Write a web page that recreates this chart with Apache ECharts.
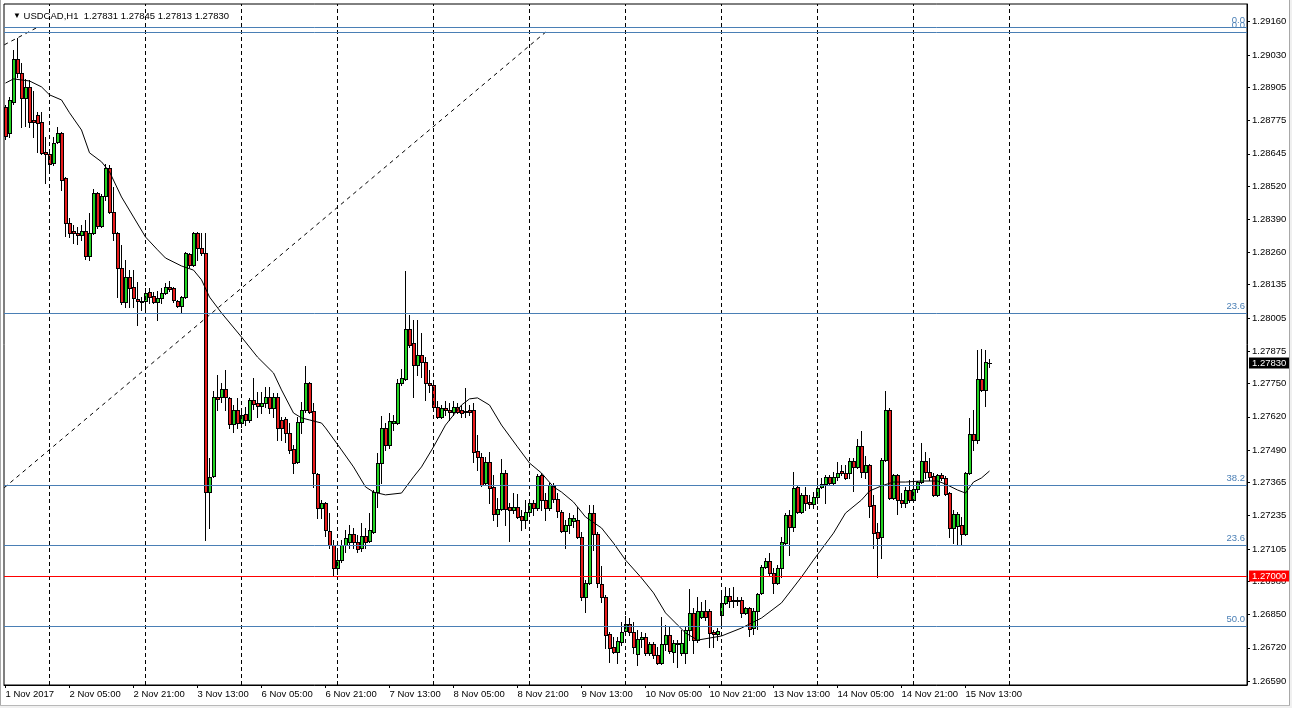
<!DOCTYPE html>
<html><head><meta charset="utf-8">
<script src="https://cdn.jsdelivr.net/npm/echarts@6.0.0/dist/echarts.min.js"></script>
<style>
html,body{margin:0;padding:0;background:#fff;}
#wrap{position:relative;width:1292px;height:708px;overflow:hidden;}
#c{width:1292px;height:708px;}
.edge{position:absolute;pointer-events:none;}
</style>
</head><body><div id="wrap"><div id="c"></div>
<div class="edge" style="left:0;top:0;width:1px;height:706px;background:#a8a8a8"></div>
<div class="edge" style="left:1289px;top:0;width:1px;height:706px;background:#a8a8a8"></div>
<div class="edge" style="left:1290px;top:0;width:2px;height:708px;background:#f0f0f0"></div>
<div class="edge" style="left:0;top:705px;width:1290px;height:1px;background:#b8b8b8"></div>
<div class="edge" style="left:0;top:706px;width:1290px;height:2px;background:#f0f0f0"></div>
</div>
<script>
const symbolName = 'USDCAD,H1';

const open = [
1.28828,1.28727,1.28847,1.29015,1.28960,1.28863,1.28906,1.28777,1.28797,1.28769,
1.28652,1.28645,1.28610,1.28691,1.28727,1.28551,1.28376,1.28345,1.28337,1.28329,
1.28345,1.28247,1.28337,1.28493,1.28364,1.28481,1.28590,1.28419,1.28337,1.28200,
1.28068,1.28165,1.28126,1.28079,1.28072,1.28072,1.28107,1.28091,1.28068,1.28083,
1.28103,1.28126,1.28122,1.28072,1.28052,1.28087,1.28255,1.28212,1.28337,1.28278,
1.28259,1.27327,1.27390,1.27698,1.27698,1.27729,1.27694,1.27592,1.27647,1.27596,
1.27631,1.27608,1.27686,1.27674,1.27662,1.27674,1.27698,1.27655,1.27698,1.27608,
1.27612,1.27557,1.27495,1.27444,1.27600,1.27647,1.27752,1.27643,1.27397,1.27265,
1.27284,1.27175,1.27121,1.27031,1.27062,1.27121,1.27132,1.27164,1.27132,1.27109,
1.27156,1.27136,1.27171,1.27327,1.27440,1.27577,1.27510,1.27596,1.27596,1.27752,
1.27768,1.27963,1.27908,1.27822,1.27861,1.27834,1.27752,1.27744,1.27658,1.27620,
1.27655,1.27647,1.27639,1.27658,1.27647,1.27643,1.27647,1.27647,1.27487,1.27464,
1.27362,1.27444,1.27347,1.27241,1.27261,1.27401,1.27269,1.27257,1.27269,1.27234,
1.27218,1.27249,1.27284,1.27265,1.27393,1.27296,1.27265,1.27351,1.27300,1.27249,
1.27175,1.27199,1.27214,1.27218,1.27152,1.26918,1.26973,1.27245,1.27164,1.26969,
1.26918,1.26774,1.26723,1.26704,1.26743,1.26785,1.26813,1.26782,1.26696,1.26754,
1.26762,1.26700,1.26735,1.26692,1.26661,1.26735,1.26770,1.26704,1.26739,1.26700,
1.26700,1.26789,1.26856,1.26750,1.26840,1.26863,1.26863,1.26782,1.26774,1.26848,
1.26895,1.26922,1.26906,1.26906,1.26906,1.26856,1.26875,1.26797,1.26863,1.26934,
1.27035,1.27058,1.27011,1.26973,1.27031,1.27128,1.27237,1.27191,1.27347,1.27249,
1.27316,1.27288,1.27280,1.27308,1.27347,1.27358,1.27386,1.27362,1.27386,1.27409,
1.27401,1.27401,1.27448,1.27425,1.27507,1.27405,1.27432,1.27277,1.27171,1.27152,
1.27452,1.27647,1.27304,1.27393,1.27296,1.27284,1.27335,1.27296,1.27339,1.27366,
1.27448,1.27405,1.27390,1.27316,1.27393,1.27382,1.27323,1.27187,1.27195,1.27199,
1.27164,1.27401,1.27553,1.27530,1.27768,1.27725,1.27831];

const high = [
1.28836,1.28867,1.29050,1.29097,1.28999,1.28937,1.28933,1.28890,1.28808,1.28808,
1.28711,1.28652,1.28711,1.28750,1.28730,1.28553,1.28395,1.28368,1.28360,1.28368,
1.28387,1.28415,1.28508,1.28497,1.28489,1.28606,1.28602,1.28516,1.28340,1.28290,
1.28231,1.28192,1.28192,1.28146,1.28087,1.28122,1.28122,1.28107,1.28111,1.28122,
1.28142,1.28150,1.28126,1.28076,1.28091,1.28263,1.28259,1.28341,1.28341,1.28337,
1.28337,1.27460,1.27721,1.27783,1.27752,1.27803,1.27698,1.27666,1.27694,1.27647,
1.27658,1.27694,1.27772,1.27717,1.27717,1.27737,1.27737,1.27713,1.27713,1.27620,
1.27620,1.27596,1.27510,1.27620,1.27678,1.27818,1.27755,1.27674,1.27401,1.27296,
1.27288,1.27245,1.27140,1.27093,1.27140,1.27179,1.27199,1.27187,1.27160,1.27206,
1.27187,1.27245,1.27335,1.27479,1.27623,1.27596,1.27635,1.27627,1.27768,1.27807,
1.28189,1.28017,1.27998,1.27998,1.27947,1.27853,1.27803,1.27752,1.27682,1.27666,
1.27682,1.27674,1.27682,1.27674,1.27666,1.27733,1.27666,1.27674,1.27549,1.27479,
1.27464,1.27483,1.27393,1.27304,1.27456,1.27413,1.27284,1.27323,1.27319,1.27257,
1.27296,1.27300,1.27296,1.27397,1.27401,1.27323,1.27362,1.27362,1.27323,1.27257,
1.27218,1.27245,1.27237,1.27269,1.27171,1.26984,1.27277,1.27277,1.27171,1.27039,
1.26926,1.26782,1.26762,1.26762,1.26820,1.26844,1.26836,1.26820,1.26789,1.26782,
1.26778,1.26743,1.26743,1.26723,1.26840,1.26809,1.26801,1.26750,1.26750,1.26789,
1.26801,1.26949,1.26875,1.26918,1.26898,1.26906,1.26871,1.26789,1.26797,1.26934,
1.26957,1.26953,1.26957,1.26918,1.26918,1.26879,1.26879,1.26875,1.26934,1.27043,
1.27070,1.27089,1.27031,1.27043,1.27152,1.27245,1.27257,1.27405,1.27351,1.27323,
1.27347,1.27316,1.27327,1.27382,1.27382,1.27393,1.27393,1.27405,1.27444,1.27432,
1.27432,1.27460,1.27460,1.27534,1.27565,1.27468,1.27435,1.27316,1.27206,1.27460,
1.27721,1.27655,1.27397,1.27397,1.27323,1.27347,1.27374,1.27374,1.27370,1.27518,
1.27483,1.27460,1.27401,1.27397,1.27401,1.27390,1.27327,1.27257,1.27249,1.27230,
1.27405,1.27616,1.27647,1.27881,1.27885,1.27881,1.27845];

const low = [
1.28703,1.28711,1.28840,1.28945,1.28750,1.28754,1.28750,1.28711,1.28652,1.28645,
1.28532,1.28586,1.28602,1.28688,1.28504,1.28325,1.28321,1.28298,1.28294,1.28310,
1.28235,1.28231,1.28333,1.28356,1.28360,1.28465,1.28415,1.28310,1.28087,1.28060,
1.28048,1.28048,1.28048,1.27978,1.28037,1.28025,1.28064,1.28064,1.27998,1.28064,
1.28099,1.28111,1.28068,1.28048,1.28025,1.28083,1.28204,1.28208,1.28231,1.28251,
1.27140,1.27187,1.27386,1.27647,1.27678,1.27647,1.27577,1.27561,1.27577,1.27581,
1.27588,1.27600,1.27651,1.27620,1.27635,1.27658,1.27635,1.27620,1.27530,1.27530,
1.27522,1.27479,1.27401,1.27440,1.27557,1.27639,1.27635,1.27347,1.27226,1.27226,
1.27156,1.27109,1.27004,1.27008,1.27054,1.27093,1.27109,1.27109,1.27093,1.27097,
1.27109,1.27132,1.27167,1.27269,1.27362,1.27491,1.27499,1.27569,1.27592,1.27744,
1.27764,1.27892,1.27698,1.27783,1.27775,1.27686,1.27717,1.27655,1.27616,1.27616,
1.27627,1.27608,1.27627,1.27635,1.27620,1.27620,1.27627,1.27444,1.27413,1.27351,
1.27355,1.27284,1.27218,1.27195,1.27257,1.27199,1.27136,1.27245,1.27226,1.27179,
1.27187,1.27245,1.27237,1.27257,1.27257,1.27218,1.27257,1.27288,1.27230,1.27171,
1.27109,1.27167,1.27191,1.27148,1.26906,1.26859,1.26969,1.27101,1.26957,1.26898,
1.26719,1.26665,1.26700,1.26661,1.26731,1.26778,1.26770,1.26700,1.26653,1.26723,
1.26692,1.26692,1.26680,1.26657,1.26657,1.26711,1.26700,1.26665,1.26645,1.26692,
1.26661,1.26750,1.26700,1.26743,1.26836,1.26828,1.26723,1.26723,1.26750,1.26809,
1.26891,1.26879,1.26879,1.26887,1.26840,1.26852,1.26766,1.26774,1.26793,1.26930,
1.27031,1.27004,1.26934,1.26969,1.26996,1.27124,1.27082,1.27175,1.27245,1.27245,
1.27257,1.27265,1.27265,1.27284,1.27343,1.27284,1.27358,1.27355,1.27374,1.27393,
1.27378,1.27382,1.27331,1.27421,1.27386,1.27382,1.27230,1.27109,1.26996,1.27070,
1.27448,1.27300,1.27300,1.27241,1.27269,1.27269,1.27288,1.27292,1.27327,1.27362,
1.27382,1.27374,1.27312,1.27312,1.27374,1.27316,1.27152,1.27128,1.27121,1.27121,
1.27160,1.27397,1.27491,1.27518,1.27721,1.27662,1.27813];

const close = [
1.28715,1.28855,1.29015,1.28960,1.28863,1.28906,1.28769,1.28769,1.28766,1.28649,
1.28645,1.28606,1.28688,1.28727,1.28543,1.28376,1.28337,1.28337,1.28329,1.28345,
1.28247,1.28337,1.28493,1.28364,1.28481,1.28590,1.28419,1.28337,1.28200,1.28068,
1.28165,1.28122,1.28083,1.28072,1.28068,1.28103,1.28087,1.28068,1.28083,1.28103,
1.28126,1.28118,1.28076,1.28052,1.28087,1.28259,1.28212,1.28337,1.28278,1.28259,
1.27327,1.27386,1.27698,1.27690,1.27729,1.27698,1.27592,1.27647,1.27596,1.27627,
1.27608,1.27686,1.27670,1.27662,1.27674,1.27698,1.27655,1.27698,1.27577,1.27577,
1.27557,1.27491,1.27440,1.27600,1.27647,1.27752,1.27639,1.27401,1.27265,1.27284,
1.27179,1.27121,1.27031,1.27062,1.27121,1.27148,1.27164,1.27132,1.27105,1.27156,
1.27132,1.27179,1.27327,1.27440,1.27577,1.27510,1.27604,1.27604,1.27752,1.27772,
1.27963,1.27900,1.27822,1.27861,1.27834,1.27752,1.27744,1.27658,1.27620,1.27655,
1.27647,1.27639,1.27658,1.27639,1.27635,1.27639,1.27639,1.27483,1.27464,1.27355,
1.27444,1.27343,1.27241,1.27261,1.27401,1.27261,1.27257,1.27269,1.27230,1.27218,
1.27249,1.27284,1.27265,1.27390,1.27296,1.27265,1.27355,1.27300,1.27253,1.27175,
1.27199,1.27226,1.27226,1.27152,1.26918,1.26973,1.27245,1.27164,1.26973,1.26918,
1.26770,1.26719,1.26704,1.26746,1.26782,1.26813,1.26782,1.26723,1.26754,1.26762,
1.26700,1.26735,1.26692,1.26661,1.26735,1.26770,1.26707,1.26739,1.26735,1.26739,
1.26789,1.26856,1.26750,1.26863,1.26863,1.26840,1.26778,1.26774,1.26785,1.26895,
1.26922,1.26902,1.26902,1.26902,1.26856,1.26875,1.26793,1.26863,1.26930,1.27035,
1.27058,1.27011,1.26973,1.27031,1.27132,1.27237,1.27191,1.27343,1.27249,1.27316,
1.27284,1.27280,1.27308,1.27343,1.27358,1.27386,1.27362,1.27386,1.27401,1.27401,
1.27382,1.27448,1.27425,1.27507,1.27405,1.27432,1.27273,1.27167,1.27148,1.27452,
1.27647,1.27304,1.27393,1.27296,1.27284,1.27335,1.27296,1.27339,1.27366,1.27448,
1.27405,1.27386,1.27316,1.27393,1.27382,1.27319,1.27187,1.27241,1.27241,1.27164,
1.27401,1.27553,1.27530,1.27768,1.27725,1.27834,1.27830];

// moving average (bar index, value)
const maBars = [0,2,6,9,11,14,16,19,21,24,26,29,32,35,38,40,44,47,49,51,54,59,63,67,69,72,74,76,79,80,84,87,90,92,95,99,102,104,107,110,114,116,118,121,124,128,131,134,137,139,142,145,149,152,155,159,162,165,168,170,173,176,179,184,189,194,199,202,207,210,214,216,219,222,225,229,233,235,238,240,242,244,246];
const maValues = [1.28921,1.28937,1.28929,1.28906,1.28875,1.28855,1.28805,1.28738,1.28649,1.28614,1.28575,1.28477,1.28399,1.28321,1.28271,1.28239,1.28208,1.28192,1.28154,1.28087,1.28025,1.27931,1.27853,1.27791,1.27725,1.27635,1.27616,1.27608,1.27596,1.27577,1.27491,1.27425,1.27347,1.27327,1.27316,1.27323,1.27386,1.27425,1.27503,1.27588,1.27666,1.27690,1.27694,1.27666,1.27588,1.27503,1.27440,1.27401,1.27347,1.27327,1.27288,1.27230,1.27187,1.27128,1.27062,1.26992,1.26934,1.26856,1.26809,1.26778,1.26750,1.26758,1.26766,1.26797,1.26836,1.26895,1.26996,1.27062,1.27167,1.27245,1.27296,1.27331,1.27351,1.27366,1.27366,1.27370,1.27370,1.27358,1.27335,1.27323,1.27366,1.27382,1.27409];

const xLabelBars = [0,16,32,48,64,80,96,112,128,144,160,176,192,208,224,240];
const xLabelText = ['1 Nov 2017','2 Nov 05:00','2 Nov 21:00','3 Nov 13:00','6 Nov 05:00','6 Nov 21:00','7 Nov 13:00','8 Nov 05:00','8 Nov 21:00','9 Nov 13:00','10 Nov 05:00','10 Nov 21:00','13 Nov 13:00','14 Nov 05:00','14 Nov 21:00','15 Nov 13:00'];
const dayBars = [11,35,59,83,107,131,155,179,203,227,251];
const yTicks = [1.29160,1.29030,1.28905,1.28775,1.28645,1.28520,1.28390,1.28260,1.28135,1.28005,1.27875,1.27750,1.27620,1.27490,1.27365,1.27235,1.27105,1.26980,1.26850,1.26720,1.26590];

const fibLevels = [1.29137,1.29119,1.28025,1.27352,1.27119,1.26805];
const fibLabels = ['0.0','0.0','23.6','38.2','23.6','50.0'];
const keyLevel = 1.27000;
const trend1Bars = [-0.3,135], trend1Prices = [1.27344,1.29119];
const trend2Bars = [-0.3,7.85], trend2Prices = [1.29070,1.29137];

const FONT = '"Liberation Sans", Arial, sans-serif';
const FS = 9.5;
const BULL = '#22d422', BEAR = '#e81c1c', FIB = '#4a7fb5';
const fmt = v => v.toFixed(5);
const last = open.length - 1;
const candles = open.map((o,i) => [i, o, close[i], low[i], high[i]]);
const labelMap = {}; xLabelBars.forEach((b,i) => labelMap[b] = xLabelText[i]);

function renderCandle(params, api) {
  const i = api.value(0), o = api.value(1), c = api.value(2), l = api.value(3), h = api.value(4);
  const pO = api.coord([i, o]), pC = api.coord([i, c]);
  const pH = api.coord([i, h]), pL = api.coord([i, l]);
  const px = Math.floor(pO[0]);
  const top = Math.round(Math.min(pO[1], pC[1]));
  const bot = Math.round(Math.max(pO[1], pC[1]));
  const children = [
    {type:'line', shape:{x1:px + 0.5, y1:Math.round(pH[1]), x2:px + 0.5, y2:Math.round(pL[1]) + 1}, style:{stroke:'#000', lineWidth:1}},
    {type:'rect', shape:{x:px - 1, y:top, width:4, height:bot - top + 1}, style:{fill:'#000'}}
  ];
  if (bot - top >= 2) {
    children.push({type:'rect', shape:{x:px, y:top + 1, width:2, height:bot - top - 1}, style:{fill: c >= o ? BULL : BEAR}});
  }
  return {type:'group', children};
}

const chart = echarts.init(document.getElementById('c'), null, {renderer:'canvas'});
chart.setOption({
  animation:false,
  backgroundColor:'#fff',
  textStyle:{fontFamily:FONT},
  title:{
    text:'{t|▼} ' + symbolName + '  ' + [open[last],high[last],low[last],close[last]].map(fmt).join(' '),
    left:8, top:6,
    textStyle:{fontSize:FS, fontWeight:'normal', fontFamily:FONT, color:'#000', rich:{t:{fontSize:8, color:'#000'}}}
  },
  grid:{left:4,right:45,top:4,bottom:23,show:true,borderColor:'#000',borderWidth:1,backgroundColor:'#fff',containLabel:false,outerBoundsMode:'none'},
  xAxis:{
    type:'value', min:-0.375, max:310.375,
    axisLine:{show:true,onZero:false,lineStyle:{color:'#000',width:1}},
    axisTick:{show:true,customValues:xLabelBars,length:3,lineStyle:{color:'#000'}},
    axisLabel:{show:true,customValues:xLabelBars,formatter:v=>labelMap[Math.round(v)]||'',align:'left',margin:4,fontSize:FS,fontFamily:FONT,color:'#000'},
    splitLine:{show:false}
  },
  yAxis:{
    type:'value', position:'right', min:1.26575, max:1.29229,
    axisLine:{show:true,onZero:false,lineStyle:{color:'#000',width:1}},
    axisTick:{show:true,customValues:yTicks,length:3,lineStyle:{color:'#000'}},
    axisLabel:{customValues:yTicks,formatter:v=>fmt(v),margin:5,fontSize:FS,fontFamily:FONT,color:'#000'},
    splitLine:{show:false}
  },
  series:[
    {
      type:'line', z:1, silent:true, symbol:'none',
      data:[[trend1Bars[0],trend1Prices[0]],[trend1Bars[1],trend1Prices[1]]],
      lineStyle:{color:'#000',width:1,type:[4,4]},
      markLine:{
        silent:true, symbol:['none','none'], animation:false, precision:5,
        data:[
          ...dayBars.map(b=>({xAxis:b,lineStyle:{color:'#000',width:1,type:[4,3]},label:{show:false}})),
          ...fibLevels.map((v,i)=>({yAxis:v,lineStyle:{color:FIB,width:1,type:'solid'},
            label:{show:true,position:'insideEndTop',formatter:fibLabels[i],color:FIB,fontSize:FS,fontFamily:FONT,distance:2}})),
          {yAxis:keyLevel,lineStyle:{color:'#ff0000',width:1,type:'solid'},
            label:{show:true,position:'end',formatter:fmt(keyLevel),color:'#fff',backgroundColor:'#ff0000',padding:[1,3,0,3],fontSize:FS,fontFamily:FONT,distance:2}},
          {yAxis:close[last],lineStyle:{color:'rgba(0,0,0,0)',width:1,type:'solid'},
            label:{show:true,position:'end',formatter:fmt(close[last]),color:'#fff',backgroundColor:'#000',padding:[1,3,0,3],fontSize:FS,fontFamily:FONT,distance:2}}
        ]
      }
    },
    {
      type:'line', z:1, silent:true, symbol:'none',
      data:[[trend2Bars[0],trend2Prices[0]],[trend2Bars[1],trend2Prices[1]]],
      lineStyle:{color:'#000',width:1,type:[4,4]}
    },
    {
      type:'custom', z:2, silent:true,
      data:candles,
      encode:{x:0, y:[1,2,3,4]},
      renderItem:renderCandle
    },
    {
      type:'line', z:3, silent:true, symbol:'none',
      data:maBars.map((b,i)=>[b,maValues[i]]),
      lineStyle:{color:'#000',width:1}
    }
  ]
});
</script>
</body></html>
